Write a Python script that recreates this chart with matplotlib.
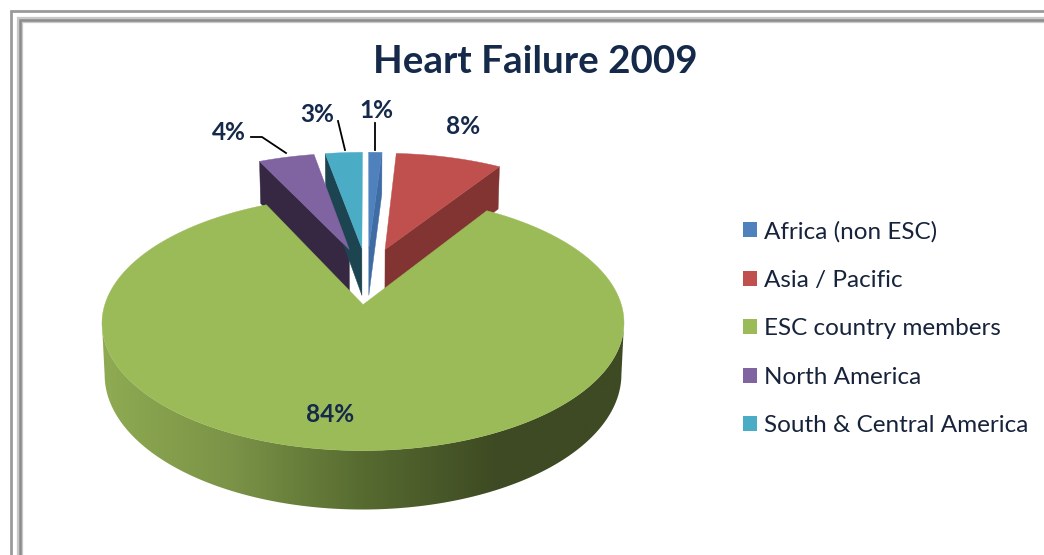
import numpy as np
from matplotlib import pyplot as plt
from matplotlib.colors import LinearSegmentedColormap
from matplotlib.lines import Line2D
from matplotlib.patches import Patch, Polygon

categories = ['Africa (non ESC)', 'Asia / Pacific', 'ESC country members', 'North America', 'South & Central America']
shares = [1, 8, 84, 4.2, 2.8]
top_colors = ['#4F81BD', '#C0504D', '#9BBB59', '#8064A2', '#4BACC6']
wall_colors = ['#3F6CA3', '#823433', '#5F7537', '#362843', '#1D4551']
share_labels = ['1%', '8%', '84%', '4%', '3%']

NAVY = '#15294A'

# camera numbers, fitted by eye against the picture
X0, Y0 = 367, 275.5
A, B = 249.5, 116.5
PERSP = 0.14
EXPLODE = 0.242
DEPTH = 48.7


def project(u, v, bottom=False):
    w = 1 + PERSP * v
    x = A * u / w
    y = Y0 - B * v / w
    if bottom:
        return X0 + x * 0.99, y + DEPTH / w
    return X0 + x, y


def rim(first, last, mid, bottom=False):
    t = np.radians(np.linspace(first, last, 400))
    m = np.radians(mid)
    return project(EXPLODE * np.sin(m) + np.sin(t), EXPLODE * np.cos(m) + np.cos(t), bottom)


def apex(mid, bottom=False):
    m = np.radians(mid)
    return project(EXPLODE * np.sin(m), EXPLODE * np.cos(m), bottom)


plt.rcParams['font.family'] = ['Lato', 'DejaVu Sans']
fig = plt.figure(figsize=(10.44, 5.55), dpi=100)
ax = fig.add_axes([0, 0, 1, 1])

# slice angles, clockwise from twelve o'clock
ends = np.cumsum(shares) / sum(shares) * 360
starts = ends - np.array(shares) / sum(shares) * 360
mids = (starts + ends) / 2

# radial walls of the small back slices, drawn from the back to the front
wall_side = {0: 'end', 1: 'end', 3: 'start', 4: 'start'}
for i in [1, 3, 4, 0]:
    mid = mids[i]
    angle = ends[i] if wall_side[i] == 'end' else starts[i]
    ax_top = apex(mid)
    ax_bot = apex(mid, True)
    rx, ry = rim(angle, angle, mid)
    bx, by = rim(angle, angle, mid, True)
    wall = [ax_top, (rx[0], ry[0]), (bx[0], by[0]), ax_bot]
    ax.add_patch(Polygon(wall, closed=True, fc=wall_colors[i], ec=wall_colors[i], lw=0.3, zorder=2))
    tx, ty = rim(starts[i], ends[i], mid)
    pts = [ax_top] + list(zip(tx, ty))
    ax.add_patch(Polygon(pts, closed=True, fc=top_colors[i], ec=top_colors[i], lw=0.3, zorder=3))

# green slice: side band between the left and right tangents, with a horizontal gradient, then the top
g = 2
tx, ty = rim(starts[g], ends[g], mids[g])
bx, by = rim(starts[g], ends[g], mids[g], True)
i_right, i_left = np.argmax(tx), np.argmin(tx)
j_right, j_left = np.argmax(bx), np.argmin(bx)
outline = list(zip(tx[i_right:i_left + 1], ty[i_right:i_left + 1]))
outline += list(zip(bx[j_right:j_left + 1][::-1], by[j_right:j_left + 1][::-1]))
side = Polygon(outline, closed=True, fc='none', ec='none', zorder=4)
ax.add_patch(side)
side_cmap = LinearSegmentedColormap.from_list('side', ['#8FAB52', '#7A9347', '#566A30', '#3E4A23', '#3E4A23'])
grad = ax.imshow(np.linspace(0, 1, 256).reshape(1, -1), cmap=side_cmap, extent=[100, 630, 520, 200],
                 aspect='auto', zorder=4)
grad.set_clip_path(side)
ax.add_patch(Polygon([apex(mids[g])] + list(zip(tx, ty)), closed=True, fc=top_colors[g], ec=top_colors[g],
                     lw=0.3, zorder=5))

# double frame round the chart
ax.plot([10.5, 10.5, 1044], [555, 11, 11], color='#9A9A9A', lw=2.0, solid_joinstyle='miter', zorder=1)
ax.plot([20, 20, 1044], [555, 20, 20], color='#C8C8C8', lw=4.5, solid_joinstyle='miter', zorder=1)
ax.plot([19.5, 19.5, 1044], [555, 19.5, 19.5], color='#8C8C8C', lw=1.8, solid_joinstyle='miter', zorder=1)

# data labels with their leader lines
label_xy = [(376, 111), (463, 127), (330, 415), (229, 132), (317, 115)]
for text, (x, y) in zip(share_labels, label_xy):
    ax.text(x, y, text, ha='center', va='center', fontsize=17.6, fontweight='bold', color=NAVY, zorder=7)
ax.add_line(Line2D([375, 375], [123, 150], color='black', lw=1.3, zorder=6))
ax.add_line(Line2D([338, 345], [121, 150], color='black', lw=1.3, zorder=6))
ax.add_line(Line2D([251, 262, 286], [137, 137, 153], color='black', lw=1.3, zorder=6))

ax.text(535, 62, 'Heart Failure 2009', ha='center', va='center', fontsize=27.7, fontweight='bold', color=NAVY)

handles = [Patch(fc=c, ec='none') for c in top_colors]
ax.legend(handles, categories, loc='upper left', bbox_to_anchor=(743 / 1044, 1 - 221 / 555), frameon=False,
          fontsize=17.5, labelcolor='#16233A', handlelength=0.58, handleheight=0.58, handletextpad=0.29,
          labelspacing=1.127, borderpad=0, borderaxespad=0)

ax.set_xlim(0, 1044)
ax.set_ylim(555, 0)
ax.axis('off')
fig.savefig('out.png', dpi=100)
